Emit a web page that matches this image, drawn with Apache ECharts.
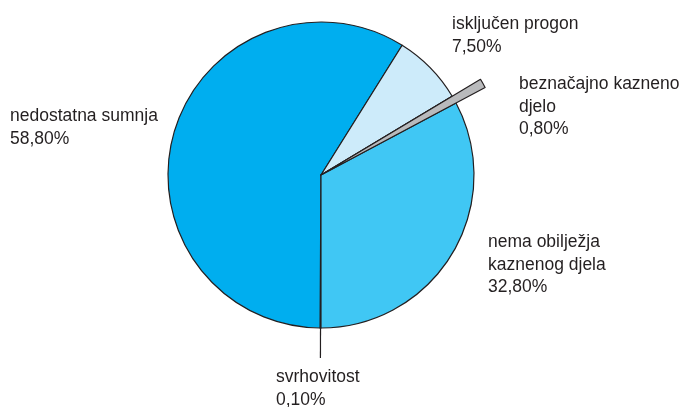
<!DOCTYPE html>
<html>
<head>
<meta charset="utf-8">
<script src="https://cdn.jsdelivr.net/npm/echarts@6/dist/echarts.min.js"></script>
<style>
html,body{margin:0;padding:0;background:#fff;}
#c{width:681px;height:407px;}
</style>
</head>
<body>
<div id="c"></div>
<script>
// Data
const categories = ['svrhovitost', 'nedostatna sumnja', 'isključen progon', 'beznačajno kazneno djelo', 'nema obilježja kaznenog djela'];
const labelNames = ['svrhovitost', 'nedostatna sumnja', 'isključen progon', 'beznačajno kazneno\ndjelo', 'nema obilježja\nkaznenog djela'];
const values = [0.1, 58.8, 7.5, 0.8, 32.8];

// Styles (kept separate from data)
const colors = ['#9a9a9a', '#00AEEF', '#CDEBFA', '#B9BABC', '#40C7F4'];
const labelPos = [[276, 366], [10, 105], [452, 13], [519, 73], [488, 231]];
const edge = '#231F20';

function fmt(v) { return v.toFixed(2).replace('.', ',') + '%'; }

const mainData = categories.map((c, i) => ({
  name: c,
  value: values[i],
  itemStyle: { color: colors[i], borderColor: edge, borderWidth: 1.2 },
  label: { show: true },
  labelLine: { show: i === 0 }
}));

const sliverData = categories.map((c, i) => ({
  name: c,
  value: values[i],
  itemStyle: i === 3
    ? { color: colors[i], borderColor: edge, borderWidth: 1.2 }
    : { color: 'rgba(0,0,0,0)', borderWidth: 0 }
}));

const chart = echarts.init(document.getElementById('c'), null, { renderer: 'canvas' });
chart.setOption({
  animation: false,
  backgroundColor: '#fff',
  series: [
    {
      type: 'pie',
      center: [321, 175],
      radius: [0, 153],
      startAngle: -90,
      clockwise: true,
      avoidLabelOverlap: false,
      minAngle: 0,
      data: mainData,
      label: {
        position: 'outside',
        color: '#231F20',
        fontFamily: 'Liberation Sans, Arial, sans-serif',
        fontSize: 17.5,
        lineHeight: 22.5,
        formatter: p => labelNames[p.dataIndex] + '\n' + fmt(p.value)
      },
      labelLine: {
        length: 30,
        length2: 0,
        lineStyle: { color: edge, width: 1.2 }
      },
      labelLayout: function (params) {
        const p = labelPos[params.dataIndex];
        return {
          x: p[0],
          y: p[1],
          align: 'left',
          verticalAlign: 'top',
          labelLinePoints: params.labelLinePoints
        };
      },
      emphasis: { disabled: true }
    },
    {
      type: 'pie',
      center: [321, 175],
      radius: [0, 186],
      startAngle: -90,
      clockwise: true,
      silent: true,
      z: 3,
      label: { show: false },
      labelLine: { show: false },
      data: sliverData,
      emphasis: { disabled: true }
    }
  ]
});
</script>
</body>
</html>
